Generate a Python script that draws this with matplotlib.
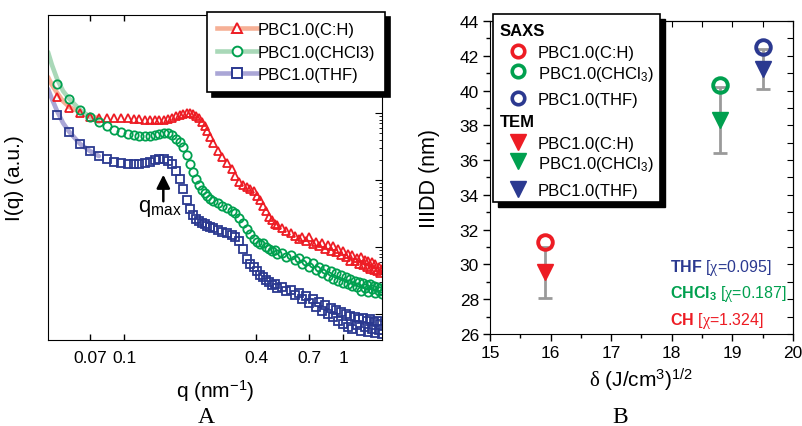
import matplotlib
matplotlib.use("Agg")
import matplotlib.pyplot as plt
from matplotlib.lines import Line2D
from matplotlib.patches import Rectangle
from matplotlib.ticker import FixedLocator, FixedFormatter, NullLocator, NullFormatter, MultipleLocator

plt.rcParams['font.family'] = ['Liberation Sans', 'DejaVu Sans']
plt.rcParams['mathtext.fontset'] = 'custom'
plt.rcParams['mathtext.rm'] = 'Liberation Sans'
plt.rcParams['mathtext.it'] = 'Liberation Serif'
plt.rcParams['mathtext.bf'] = 'Liberation Sans:bold'

RED = '#ed1c24'
GREEN = '#00a04f'
BLUE = '#2b3990'
FIT_RED = '#f6b096'
FIT_GREEN = '#a9d8b8'
FIT_BLUE = '#aaa6d6'
ERR_GRAY = '#9a9a9a'

# ---- panel A: SAXS profiles, I(q) in a.u. ----
q = [0.0495, 0.0563, 0.0631, 0.0699, 0.0767, 0.0835, 0.0903, 0.0971, 0.104, 0.111,
     0.117, 0.124, 0.131, 0.138, 0.145, 0.152, 0.158, 0.165, 0.172, 0.179,
     0.186, 0.193, 0.199, 0.206, 0.213, 0.220, 0.227, 0.233, 0.240, 0.247,
     0.254, 0.268, 0.281, 0.295, 0.309, 0.322, 0.336, 0.349, 0.363, 0.377,
     0.390, 0.404, 0.418, 0.431, 0.445, 0.458, 0.472, 0.486, 0.499, 0.525,
     0.55, 0.575, 0.60, 0.625, 0.65, 0.675, 0.70, 0.725, 0.75, 0.775,
     0.80, 0.825, 0.85, 0.875, 0.90, 0.925, 0.95, 0.975, 1.0, 1.025,
     1.05, 1.075, 1.10, 1.125, 1.15, 1.175, 1.2, 1.225, 1.25, 1.275,
     1.3, 1.325, 1.35, 1.375, 1.4, 1.425, 1.45, 1.475, 1.5]

I_ch = [174, 119, 100, 87.1, 84.2, 84.2, 84.2, 84.2, 84.2, 81.3,
        81.3, 78.6, 78.6, 78.6, 78.6, 78.6, 81.3, 84.2, 90.2, 93.3,
        96.6, 100, 100, 96.6, 90.2, 84.2, 73.3, 63.9, 53.8, 43.8,
        35.7, 27.1, 22.0, 17.9, 14.6, 11.5, 9.37, 8.42, 7.86, 7.34,
        6.86, 5.77, 5.03, 4.09, 3.45, 2.81, 2.53, 2.20, 2.13, 1.92,
        1.73, 1.62, 1.46, 1.32, 1.41, 1.23, 1.41, 1.11, 1.19, 1.035,
        1.15, 0.933, 1.07, 0.871, 1.035, 0.842, 0.933, 0.760, 0.871, 0.709,
        0.787, 0.618, 0.760, 0.618, 0.685, 0.557, 0.709, 0.539, 0.640, 0.503,
        0.618, 0.470, 0.597, 0.454, 0.557, 0.438, 0.503, 0.409, 0.470]

I_chcl3 = [271, 162, 111, 87.1, 73.3, 63.9, 55.7, 52.0, 48.6, 46.9,
           45.3, 45.3, 45.3, 46.9, 48.6, 50.3, 50.3, 46.9, 40.9, 36.9,
           31.1, 23.6, 17.3, 13.2, 10.4, 8.42, 7.09, 6.40, 5.77, 5.20,
           4.86, 4.53, 4.09, 3.82, 3.45, 3.22, 2.71, 2.28, 1.86, 1.56,
           1.32, 1.19, 1.11, 1.15, 1.00, 0.933, 0.871, 0.902, 0.787, 0.813,
           0.709, 0.760, 0.640, 0.685, 0.557, 0.618, 0.503, 0.577, 0.454, 0.503,
           0.409, 0.470, 0.369, 0.438, 0.333, 0.409, 0.311, 0.382, 0.290, 0.356,
           0.280, 0.333, 0.261, 0.311, 0.253, 0.300, 0.220, 0.290, 0.244, 0.271,
           0.213, 0.280, 0.236, 0.261, 0.205, 0.253, 0.220, 0.244, 0.199]

I_thf = [93.3, 52.0, 34.5, 27.1, 22.8, 20.6, 18.6, 17.9, 17.3, 17.3,
         17.3, 17.9, 18.6, 19.9, 20.6, 20.6, 19.2, 17.3, 13.6, 10.4,
         7.34, 5.03, 3.69, 3.00, 2.62, 2.45, 2.28, 2.20, 2.06, 1.99,
         1.92, 1.79, 1.67, 1.62, 1.51, 1.41, 1.23, 0.933, 0.662, 0.557,
         0.503, 0.438, 0.382, 0.356, 0.321, 0.300, 0.271, 0.280, 0.244, 0.253,
         0.220, 0.228, 0.192, 0.205, 0.167, 0.185, 0.146, 0.167, 0.127, 0.151,
         0.111, 0.136, 0.100, 0.123, 0.0902, 0.115, 0.0786, 0.107, 0.0709, 0.100,
         0.0639, 0.0934, 0.0597, 0.0902, 0.0685, 0.0842, 0.0557, 0.0871, 0.0639, 0.0786,
         0.0538, 0.0842, 0.0597, 0.0759, 0.0520, 0.0786, 0.0577, 0.0709, 0.0503]

# fitted curves at low q
fit_q = [0.045, 0.0469, 0.0495, 0.0527, 0.0563, 0.0631, 0.0699, 0.0767]
fit_ch = [344, 262, 200, 150, 123, 103, 90, 84]
fit_chcl3 = [813, 520, 322, 213, 162, 111, 87.1, 73.3]
fit_thf = [228, 162, 107, 70.9, 52.0, 34.5, 27.1, 22.8]

labels_a = ['PBC1.0(C:H)', 'PBC1.0(CHCl3)', 'PBC1.0(THF)']
q_ticks = [0.07, 0.1, 0.4, 0.7, 1]
q_max_pos = 0.151

# ---- panel B: IIDD vs solubility parameter ----
delta = [15.9, 18.8, 19.5]
saxs_iidd = [31.3, 40.3, 42.5]
tem_iidd = [29.55, 38.3, 41.25]
tem_err = [1.47, 1.9, 1.15]
labels_b = ['PBC1.0(C:H)', r'PBC1.0(CHCl$_3$)', 'PBC1.0(THF)']
chi_notes = [r'$\mathbf{THF}$ [$\chi$=0.095]',
             r'$\mathbf{CHCl_3}$ [$\chi$=0.187]',
             r'$\mathbf{CH}$ [$\chi$=1.324]']

colors = [RED, GREEN, BLUE]
fit_colors = [FIT_RED, FIT_GREEN, FIT_BLUE]
markers_a = ['^', 'o', 's']

fig = plt.figure(figsize=(8.03, 4.27), dpi=100)

# ---------------- panel A ----------------
ax1 = fig.add_axes([0.0598, 0.2014, 0.4159, 0.7611])
ax1.set_xscale('log')
ax1.set_yscale('log')

for fI, fc in zip([fit_ch, fit_chcl3, fit_thf], fit_colors):
    ax1.plot(fit_q, fI, color=fc, lw=3.3, solid_capstyle='round', zorder=1)

for I, c, m in zip([I_ch, I_chcl3, I_thf], colors, markers_a):
    ax1.plot(q, I, ls='none', marker=m, ms=6, mfc='none', mec=c, mew=1.3, zorder=2)

ax1.set_xlim(0.045, 1.5)
ax1.set_ylim(0.041, 2900)

ax1.xaxis.set_major_locator(FixedLocator(q_ticks))
ax1.xaxis.set_major_formatter(FixedFormatter([f'{t:g}' for t in q_ticks]))
ax1.xaxis.set_minor_locator(NullLocator())
ax1.tick_params(axis='x', which='both', direction='in', top=True, bottom=True,
                length=4.5, width=1, labelsize=12.5, pad=7)
ax1.yaxis.tick_right()
ax1.yaxis.set_minor_formatter(NullFormatter())
ax1.tick_params(axis='y', which='both', direction='in', left=False, right=True,
                labelright=False, labelleft=False)
ax1.tick_params(axis='y', which='major', length=5)
ax1.tick_params(axis='y', which='minor', length=2.5)
ax1.set_ylabel('I(q) (a.u.)', fontsize=15)
ax1.yaxis.set_label_position('left')
ax1.yaxis.set_label_coords(-0.072, 0.5)
ax1.set_xlabel(r'q (nm$^{-1}$)', fontsize=15)
ax1.xaxis.set_label_coords(0.5, -0.115)

ax1.annotate('', xy=(q_max_pos, 13.2), xytext=(q_max_pos, 4.38),
             arrowprops=dict(arrowstyle='-|>', color='black', lw=1.8, mutation_scale=20))
ax1.text(0.146, 3.45, r'q$_{\mathrm{max}}$', fontsize=16, ha='center', va='baseline')

handles_a = [Line2D([0, 1], [0, 0], color=fc, lw=3.3, marker=m, ms=7, mfc='white',
                    mec=c, mew=1.4)
             for fc, c, m in zip(fit_colors, colors, markers_a)]
leg = ax1.legend(handles_a, labels_a, loc='upper right', bbox_to_anchor=(1.009, 1.009),
                 borderaxespad=0, fancybox=False, edgecolor='black', framealpha=1,
                 shadow={'ox': 3.5, 'oy': -3.5, 'color': 'black', 'alpha': 1},
                 fontsize=12, handlelength=2.4, handletextpad=0.05,
                 labelspacing=0.45, borderpad=0.6)
leg.get_frame().set_linewidth(1.2)

# ---------------- panel B ----------------
ax2 = fig.add_axes([0.6102, 0.2155, 0.3773, 0.7330])
ax2.errorbar(delta, tem_iidd, yerr=tem_err, fmt='none', ecolor=ERR_GRAY,
             elinewidth=2, capsize=5, capthick=2, zorder=2)
for x, yt, ys, c in zip(delta, tem_iidd, saxs_iidd, colors):
    ax2.plot([x], [yt], ls='none', marker='v', ms=12, color=c, zorder=3)
    ax2.plot([x], [ys], ls='none', marker='o', ms=10.5, mfc='none', mec=c, mew=2.8, zorder=4)

ax2.set_xlim(15, 20)
ax2.set_ylim(26, 44)
ax2.xaxis.set_major_locator(MultipleLocator(1))
ax2.xaxis.set_minor_locator(MultipleLocator(0.5))
ax2.yaxis.set_major_locator(MultipleLocator(2))
ax2.yaxis.set_minor_locator(MultipleLocator(1))
ax2.tick_params(which='both', direction='out', labelsize=12.5, width=1)
ax2.tick_params(which='major', length=5, pad=3)
ax2.tick_params(which='minor', length=3)

# mirrored inward ticks on top and right
sec_top = ax2.secondary_xaxis('top')
sec_top.xaxis.set_major_locator(MultipleLocator(0.5))
sec_top.xaxis.set_major_formatter(NullFormatter())
sec_top.tick_params(direction='in', length=4)
sec_right = ax2.secondary_yaxis('right')
sec_right.yaxis.set_major_locator(MultipleLocator(1))
sec_right.yaxis.set_major_formatter(NullFormatter())
sec_right.tick_params(direction='in', length=4)

ax2.set_ylabel('IIIDD (nm)', fontsize=15.5)
ax2.yaxis.set_label_coords(-0.165, 0.5)
ax2.set_xlabel(r'$\delta$ (J/cm$^3$)$^{1/2}$', fontsize=15)
ax2.xaxis.set_label_coords(0.5, -0.1)

for txt, c, y in zip(chi_notes, [BLUE, GREEN, RED], [0.224, 0.141, 0.054]):
    ax2.text(0.594, y, txt, color=c, fontsize=11.5, va='center_baseline',
             transform=ax2.transAxes)

# legend for panel B, drawn by hand (group headers)
box_x, box_y, box_w, box_h = 0.01, 0.422, 0.551, 0.600
sx, sy = 5 / 303, -5 / 313
ax2.add_patch(Rectangle((box_x + sx, box_y + sy), box_w, box_h, transform=ax2.transAxes,
                        facecolor='black', edgecolor='black', clip_on=False, zorder=5))
ax2.add_patch(Rectangle((box_x, box_y), box_w, box_h, transform=ax2.transAxes,
                        facecolor='white', edgecolor='black', lw=1.2, clip_on=False, zorder=5.1))
rows_saxs = [0.904, 0.840, 0.754]
rows_tem = [0.613, 0.553, 0.463]
ax2.text(0.033, 0.974, 'SAXS', fontsize=12, fontweight='bold', va='center_baseline',
         transform=ax2.transAxes, zorder=6)
ax2.text(0.033, 0.684, 'TEM', fontsize=12, fontweight='bold', va='center_baseline',
         transform=ax2.transAxes, zorder=6)
for ry, lab, c in zip(rows_saxs, labels_b, colors):
    ax2.plot([0.092], [ry], marker='o', ms=9, mfc='none', mec=c, mew=2.6,
             transform=ax2.transAxes, clip_on=False, zorder=6)
    ax2.text(0.158, ry, lab, fontsize=12, va='center_baseline', transform=ax2.transAxes, zorder=6)
for ry, lab, c in zip(rows_tem, labels_b, colors):
    ax2.plot([0.092], [ry], marker='v', ms=11, color=c,
             transform=ax2.transAxes, clip_on=False, zorder=6)
    ax2.text(0.158, ry, lab, fontsize=12, va='center_baseline', transform=ax2.transAxes, zorder=6)

fig.text(206 / 803, 1 - 418 / 427, 'A', fontsize=17, family='Liberation Serif',
         ha='center', va='center')
fig.text(620 / 803, 1 - 418 / 427, 'B', fontsize=17, family='Liberation Serif',
         ha='center', va='center')

fig.savefig('out.png', dpi=100)
